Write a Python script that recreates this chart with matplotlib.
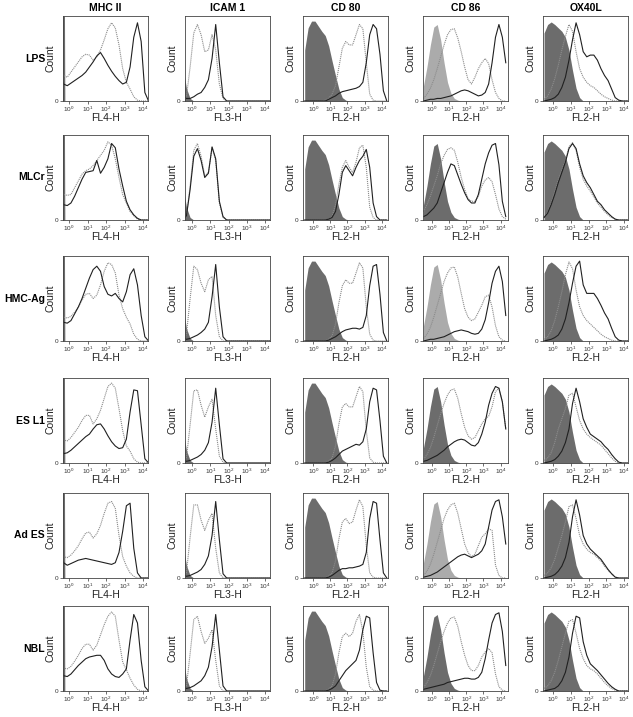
import matplotlib
matplotlib.use('Agg')
import matplotlib.pyplot as plt
import numpy as np

plt.rcParams['font.family'] = ['Liberation Sans', 'DejaVu Sans']
plt.rcParams['mathtext.default'] = 'regular'

# ------------------------------------------------------------
# histogram channels (log10 of fluorescence) shared by all panels
# ------------------------------------------------------------
log_fl = [-0.5, -0.3, -0.1, 0.1, 0.3, 0.5, 0.7, 0.9, 1.1, 1.3, 1.5, 1.7,
          1.9, 2.1, 2.3, 2.5, 2.7, 2.9, 3.1, 3.3, 3.5, 3.7, 3.9, 4.1, 4.3]
# MHC II isotype piles up in the first channel
spike_fl = [-0.5, -0.25, -0.23, 4.3]

markers = ['MHC II', 'ICAM 1', 'CD 80', 'CD 86', 'OX40L']
channels = ['FL4-H', 'FL3-H', 'FL2-H', 'FL2-H', 'FL2-H']
stimuli = ['LPS', 'MLCr', 'HMC-Ag', 'ES L1', 'Ad ES', 'NBL']

# isotype controls (filled grey), % of max count
mhc_iso = [100, 100, 0, 0]
icam_iso = [40, 15, 3, 0, 0, 0, 0, 0, 0, 0, 0, 0, 0, 0, 0, 0, 0, 0, 0, 0, 0, 0, 0, 0, 0]
cd80_iso = [60, 86, 94, 94, 88, 82, 77, 65, 47, 30, 14, 4, 1, 0, 0, 0, 0, 0, 0, 0, 0, 0, 0, 0, 0]
cd86_iso = [18, 40, 66, 87, 90, 72, 45, 22, 9, 3, 1, 0, 0, 0, 0, 0, 0, 0, 0, 0, 0, 0, 0, 0, 0]
ox40l_iso = [80, 90, 93, 90, 86, 82, 75, 60, 36, 15, 4, 0, 0, 0, 0, 0, 0, 0, 0, 0, 0, 0, 0, 0, 0]

# --- LPS ---
lps_mhc_dot = [40, 30, 28, 34, 40, 46, 52, 55, 54, 48, 52, 60, 72, 85, 92, 86, 66, 38, 22, 14, 5, 1, 0, 0, 0]
lps_mhc_line = [30, 20, 18, 21, 24, 27, 30, 34, 40, 46, 53, 57, 50, 42, 35, 29, 24, 20, 22, 40, 75, 92, 70, 10, 0]
lps_icam_dot = [0, 5, 40, 80, 90, 78, 58, 60, 78, 60, 20, 3, 0, 0, 0, 0, 0, 0, 0, 0, 0, 0, 0, 0, 0]
lps_icam_line = [5, 3, 3, 5, 8, 10, 16, 25, 50, 90, 45, 5, 0, 0, 0, 0, 0, 0, 0, 0, 0, 0, 0, 0, 0]
lps_cd80_dot = [0, 0, 0, 0, 0, 0, 1, 3, 8, 18, 40, 62, 70, 66, 66, 78, 90, 85, 45, 8, 1, 0, 0, 0, 0]
lps_cd80_line = [0, 0, 0, 0, 0, 0, 0, 2, 4, 6, 9, 11, 12, 13, 14, 15, 17, 22, 45, 78, 90, 85, 55, 12, 0]
lps_cd86_dot = [3, 8, 15, 25, 38, 52, 66, 78, 84, 85, 74, 58, 40, 25, 20, 28, 38, 45, 50, 44, 25, 10, 3, 0, 0]
lps_cd86_line = [0, 1, 2, 2, 3, 3, 4, 5, 6, 8, 10, 12, 13, 12, 10, 8, 6, 7, 10, 20, 45, 75, 90, 75, 45]
lps_ox40l_dot = [2, 6, 14, 26, 42, 60, 76, 90, 82, 58, 38, 28, 22, 18, 16, 12, 8, 5, 3, 1, 0, 0, 0, 0, 0]
lps_ox40l_line = [0, 1, 2, 4, 8, 16, 28, 48, 72, 92, 78, 58, 52, 54, 54, 48, 38, 30, 24, 14, 4, 1, 0, 0, 0]

# --- MLCr ---
mlcr_mhc_dot = [38, 30, 29, 30, 38, 46, 54, 58, 60, 64, 70, 76, 82, 92, 88, 72, 50, 30, 20, 10, 5, 1, 0, 0, 0]
mlcr_mhc_line = [26, 18, 17, 20, 28, 38, 48, 56, 57, 58, 70, 55, 62, 72, 90, 85, 60, 40, 22, 12, 6, 2, 0, 0, 0]
mlcr_icam_dot = [0, 5, 40, 82, 90, 75, 52, 56, 85, 70, 20, 3, 0, 0, 0, 0, 0, 0, 0, 0, 0, 0, 0, 0, 0]
mlcr_icam_line = [0, 5, 36, 75, 84, 70, 50, 55, 86, 72, 22, 4, 0, 0, 0, 0, 0, 0, 0, 0, 0, 0, 0, 0, 0]
mlcr_cd80_dot = [0, 0, 0, 0, 0, 0, 0, 1, 4, 18, 42, 62, 70, 62, 56, 68, 85, 88, 62, 15, 3, 0, 0, 0, 0]
mlcr_cd80_line = [0, 0, 0, 0, 0, 0, 0, 1, 3, 10, 30, 56, 64, 58, 52, 62, 70, 75, 83, 62, 20, 4, 0, 0, 0]
mlcr_cd86_dot = [10, 18, 28, 40, 52, 66, 76, 83, 85, 82, 68, 50, 36, 25, 22, 22, 28, 40, 47, 50, 45, 30, 13, 4, 1]
mlcr_cd86_line = [4, 6, 10, 14, 20, 32, 44, 56, 66, 64, 53, 42, 32, 24, 20, 20, 30, 48, 66, 79, 88, 90, 65, 22, 4]
mlcr_ox40l_dot = [3, 9, 20, 33, 47, 59, 70, 86, 91, 82, 62, 48, 40, 34, 27, 20, 15, 10, 6, 3, 1, 0, 0, 0, 0]
mlcr_ox40l_line = [3, 8, 18, 30, 44, 56, 68, 84, 90, 84, 66, 52, 44, 38, 30, 22, 18, 12, 8, 4, 1, 0, 0, 0, 0]

# --- HMC-Ag ---
hmc_mhc_dot = [36, 28, 27, 29, 34, 40, 48, 55, 56, 50, 54, 66, 82, 92, 90, 80, 54, 38, 28, 20, 8, 2, 0, 0, 0]
hmc_mhc_line = [30, 22, 21, 24, 32, 40, 50, 62, 74, 84, 88, 82, 64, 55, 53, 56, 50, 46, 58, 78, 85, 66, 30, 5, 0]
hmc_icam_dot = [0, 8, 50, 88, 84, 68, 58, 72, 76, 30, 5, 0, 0, 0, 0, 0, 0, 0, 0, 0, 0, 0, 0, 0, 0]
hmc_icam_line = [4, 2, 3, 5, 7, 10, 14, 22, 52, 90, 40, 5, 0, 0, 0, 0, 0, 0, 0, 0, 0, 0, 0, 0, 0]
hmc_cd80_dot = [0, 0, 0, 0, 0, 0, 0, 2, 6, 20, 45, 65, 72, 68, 68, 80, 92, 86, 40, 8, 1, 0, 0, 0, 0]
hmc_cd80_line = [0, 0, 0, 0, 0, 0, 0, 1, 3, 5, 8, 11, 13, 14, 15, 15, 14, 16, 30, 65, 88, 90, 55, 10, 0]
hmc_cd86_dot = [3, 8, 16, 28, 42, 56, 70, 80, 86, 87, 75, 56, 38, 28, 24, 26, 34, 42, 52, 54, 40, 18, 5, 1, 0]
hmc_cd86_line = [0, 1, 2, 2, 3, 4, 5, 7, 9, 11, 12, 13, 12, 11, 9, 8, 9, 14, 25, 45, 68, 82, 88, 70, 30]
hmc_ox40l_dot = [2, 5, 12, 24, 40, 58, 78, 93, 85, 60, 40, 30, 24, 20, 16, 12, 8, 5, 3, 1, 0, 0, 0, 0, 0]
hmc_ox40l_line = [0, 1, 2, 4, 7, 14, 26, 45, 68, 88, 94, 66, 56, 56, 56, 50, 42, 33, 26, 15, 5, 1, 0, 0, 0]

# --- ES L1 ---
esl1_mhc_dot = [36, 27, 26, 30, 36, 42, 50, 56, 56, 46, 52, 62, 76, 90, 94, 88, 64, 38, 20, 14, 5, 1, 0, 0, 0]
esl1_mhc_line = [20, 11, 12, 15, 19, 23, 27, 31, 34, 40, 45, 46, 40, 32, 25, 20, 17, 18, 28, 60, 86, 85, 45, 5, 0]
esl1_icam_dot = [0, 6, 45, 85, 86, 68, 54, 66, 75, 40, 8, 1, 0, 0, 0, 0, 0, 0, 0, 0, 0, 0, 0, 0, 0]
esl1_icam_line = [4, 2, 3, 5, 7, 10, 15, 24, 48, 88, 45, 5, 0, 0, 0, 0, 0, 0, 0, 0, 0, 0, 0, 0, 0]
esl1_cd80_dot = [0, 0, 0, 0, 0, 0, 0, 2, 6, 20, 46, 66, 70, 66, 66, 78, 90, 84, 38, 6, 1, 0, 0, 0, 0]
esl1_cd80_line = [0, 0, 0, 0, 0, 0, 0, 1, 3, 6, 10, 14, 16, 18, 20, 22, 21, 25, 40, 72, 88, 86, 50, 8, 0]
esl1_cd86_dot = [4, 10, 18, 30, 44, 58, 70, 80, 86, 87, 76, 58, 42, 32, 28, 30, 38, 46, 52, 55, 66, 84, 88, 72, 40]
esl1_cd86_line = [2, 3, 5, 7, 9, 12, 15, 19, 22, 25, 27, 28, 27, 24, 21, 20, 24, 34, 48, 68, 82, 90, 88, 72, 40]
esl1_ox40l_dot = [3, 6, 12, 24, 40, 52, 64, 80, 82, 66, 50, 40, 34, 30, 27, 24, 21, 16, 11, 6, 2, 0, 0, 0, 0]
esl1_ox40l_line = [0, 1, 2, 4, 8, 14, 24, 40, 70, 88, 72, 52, 42, 34, 31, 28, 25, 20, 16, 10, 5, 1, 0, 0, 0]

# --- Ad ES ---
ades_mhc_dot = [34, 25, 24, 27, 32, 38, 46, 53, 54, 47, 52, 62, 76, 88, 90, 82, 50, 25, 14, 6, 2, 0, 0, 0, 0]
ades_mhc_line = [26, 18, 15, 17, 19, 21, 22, 23, 22, 21, 20, 19, 18, 17, 16, 18, 30, 55, 85, 88, 35, 6, 0, 0, 0]
ades_icam_dot = [0, 6, 48, 86, 86, 68, 56, 68, 76, 35, 6, 0, 0, 0, 0, 0, 0, 0, 0, 0, 0, 0, 0, 0, 0]
ades_icam_line = [4, 2, 3, 5, 7, 10, 16, 26, 50, 90, 45, 5, 0, 0, 0, 0, 0, 0, 0, 0, 0, 0, 0, 0, 0]
ades_cd80_dot = [0, 0, 0, 0, 0, 0, 0, 2, 6, 20, 46, 66, 70, 64, 66, 80, 92, 84, 38, 6, 1, 0, 0, 0, 0]
ades_cd80_line = [0, 0, 0, 0, 0, 0, 0, 1, 3, 6, 9, 11, 11, 12, 12, 13, 14, 16, 30, 70, 90, 88, 45, 6, 0]
ades_cd86_dot = [3, 8, 16, 28, 42, 56, 70, 80, 86, 88, 76, 58, 40, 30, 25, 28, 38, 48, 52, 58, 56, 15, 3, 0, 0]
ades_cd86_line = [1, 2, 3, 5, 7, 10, 13, 16, 19, 22, 25, 27, 28, 26, 24, 26, 28, 32, 40, 60, 80, 90, 92, 72, 40]
ades_ox40l_dot = [3, 6, 12, 22, 36, 50, 66, 84, 86, 70, 50, 40, 34, 30, 28, 24, 20, 14, 9, 5, 1, 0, 0, 0, 0]
ades_ox40l_line = [0, 1, 2, 4, 8, 14, 24, 42, 72, 92, 74, 50, 40, 34, 30, 26, 22, 16, 10, 5, 1, 0, 0, 0, 0]

# --- NBL ---
nbl_mhc_dot = [36, 27, 26, 29, 35, 42, 50, 55, 55, 48, 54, 66, 78, 88, 93, 88, 60, 34, 25, 15, 7, 2, 0, 0, 0]
nbl_mhc_line = [26, 18, 17, 20, 25, 30, 34, 38, 40, 41, 42, 42, 36, 26, 20, 17, 16, 20, 26, 60, 90, 80, 36, 5, 0]
nbl_icam_dot = [0, 6, 44, 84, 88, 70, 56, 62, 72, 36, 6, 0, 0, 0, 0, 0, 0, 0, 0, 0, 0, 0, 0, 0, 0]
nbl_icam_line = [4, 3, 4, 6, 9, 12, 18, 28, 52, 90, 48, 6, 0, 0, 0, 0, 0, 0, 0, 0, 0, 0, 0, 0, 0]
nbl_cd80_dot = [0, 0, 0, 0, 0, 0, 0, 2, 6, 20, 45, 64, 68, 64, 68, 82, 90, 70, 28, 5, 1, 0, 0, 0, 0]
nbl_cd80_line = [0, 0, 0, 0, 0, 0, 0, 1, 3, 6, 12, 18, 24, 28, 32, 36, 48, 72, 88, 86, 45, 10, 1, 0, 0]
nbl_cd86_dot = [4, 10, 18, 30, 44, 58, 70, 80, 86, 87, 76, 58, 42, 30, 24, 24, 30, 40, 46, 50, 45, 20, 5, 1, 0]
nbl_cd86_line = [2, 3, 4, 5, 6, 7, 8, 10, 11, 12, 13, 14, 15, 15, 14, 14, 16, 22, 38, 60, 80, 90, 92, 70, 30]
nbl_ox40l_dot = [3, 6, 12, 22, 36, 52, 68, 82, 84, 68, 50, 38, 30, 26, 24, 20, 15, 10, 6, 3, 1, 0, 0, 0, 0]
nbl_ox40l_line = [0, 1, 2, 3, 6, 12, 22, 40, 68, 88, 86, 58, 42, 32, 28, 24, 19, 14, 9, 5, 2, 0, 0, 0, 0]

iso_x = [spike_fl, log_fl, log_fl, log_fl, log_fl]
iso_cols = [mhc_iso, icam_iso, cd80_iso, cd86_iso, ox40l_iso]
dot_rows = [
    [lps_mhc_dot, lps_icam_dot, lps_cd80_dot, lps_cd86_dot, lps_ox40l_dot],
    [mlcr_mhc_dot, mlcr_icam_dot, mlcr_cd80_dot, mlcr_cd86_dot, mlcr_ox40l_dot],
    [hmc_mhc_dot, hmc_icam_dot, hmc_cd80_dot, hmc_cd86_dot, hmc_ox40l_dot],
    [esl1_mhc_dot, esl1_icam_dot, esl1_cd80_dot, esl1_cd86_dot, esl1_ox40l_dot],
    [ades_mhc_dot, ades_icam_dot, ades_cd80_dot, ades_cd86_dot, ades_ox40l_dot],
    [nbl_mhc_dot, nbl_icam_dot, nbl_cd80_dot, nbl_cd86_dot, nbl_ox40l_dot],
]
line_rows = [
    [lps_mhc_line, lps_icam_line, lps_cd80_line, lps_cd86_line, lps_ox40l_line],
    [mlcr_mhc_line, mlcr_icam_line, mlcr_cd80_line, mlcr_cd86_line, mlcr_ox40l_line],
    [hmc_mhc_line, hmc_icam_line, hmc_cd80_line, hmc_cd86_line, hmc_ox40l_line],
    [esl1_mhc_line, esl1_icam_line, esl1_cd80_line, esl1_cd86_line, esl1_ox40l_line],
    [ades_mhc_line, ades_icam_line, ades_cd80_line, ades_cd86_line, ades_ox40l_line],
    [nbl_mhc_line, nbl_icam_line, nbl_cd80_line, nbl_cd86_line, nbl_ox40l_line],
]

# ------------------------------------------------------------
# layout (pixels of a 633x717 canvas)
# ------------------------------------------------------------
W, H = 633, 717
col_left = [63, 185, 303, 423, 543]
row_top = [16, 135, 256, 378, 493, 606]
pw, ph = 85, 85
xlims = [(-0.33, 4.27), (-0.38, 4.27), (-0.6, 4.37), (-0.53, 4.43), (-0.56, 4.22)]
cd86_light = [True, False, True, False, True, False]

fig = plt.figure(figsize=(W / 100, H / 100), dpi=100)
fl = 10 ** np.array(log_fl)

for r, stim in enumerate(stimuli):
    for c, mk in enumerate(markers):
        ax = fig.add_axes([col_left[c] / W, 1 - (row_top[r] + ph) / H, pw / W, ph / H])
        fill_col = '#6c6c6c'
        if c == 3 and cd86_light[r]:
            fill_col = '#ababab'
        ax.fill_between(10 ** np.array(iso_x[c]), 0, iso_cols[c], color=fill_col, lw=0)
        ax.plot(fl, dot_rows[r][c], color='#8c8c8c', lw=0.8, ls=(0, (1, 0.8)))
        ax.plot(fl, line_rows[r][c], color='#202020', lw=0.8)

        ax.set_xscale('log')
        ax.set_xlim(10 ** xlims[c][0], 10 ** xlims[c][1])
        ax.set_ylim(0, 100)
        ax.set_xticks([1, 10, 100, 1000, 10000])
        ax.set_yticks([0])
        ax.set_yticklabels(['0'])
        ax.tick_params(which='major', direction='out', length=2, width=0.5,
                       labelsize=4.6, pad=1, colors='#333333')
        ax.tick_params(which='minor', direction='out', length=1.2, width=0.4,
                       colors='#333333')
        ax.tick_params(axis='y', which='minor', left=False)
        for s in ax.spines.values():
            s.set_linewidth(0.6)
            s.set_color('#444444')
        ax.set_ylabel('Count', fontsize=7.5, color='#222222')
        ax.yaxis.set_label_coords(-7 / pw, 0.5)
        ax.set_xlabel(channels[c], fontsize=7.5, color='#222222', va='top')
        ax.xaxis.set_label_coords(0.5, -12 / ph)

        if r == 0:
            fig.text((col_left[c] + pw / 2) / W, 1 - 8 / H, mk, ha='center', va='center',
                     fontsize=7.5, fontweight='bold')
        if c == 0:
            fig.text(45 / W, 1 - (row_top[r] + ph / 2) / H, stim, ha='right', va='center',
                     fontsize=7.5, fontweight='bold')

fig.savefig('out.png', dpi=100)
